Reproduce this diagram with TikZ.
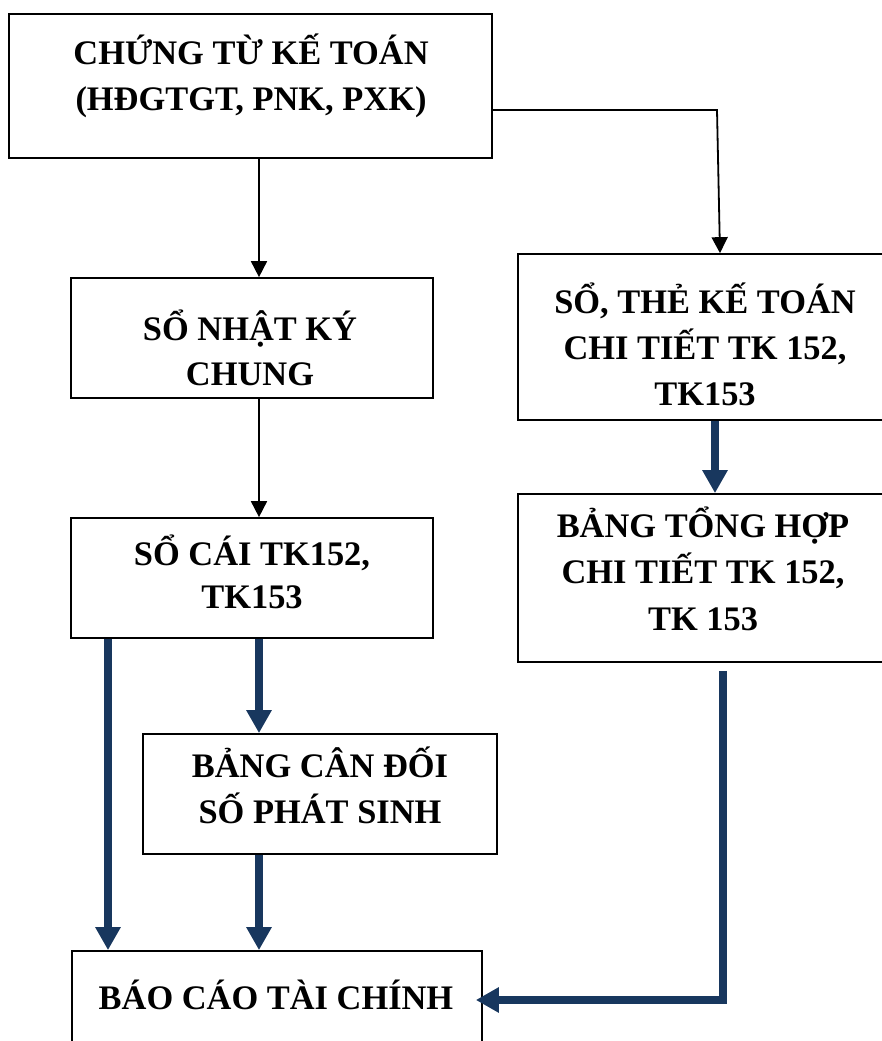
\documentclass[tikz,border=0pt]{standalone}
\usepackage{fontspec}
\setmainfont{Liberation Serif}
\usetikzlibrary{arrows.meta}
\definecolor{flowblue}{RGB}{24,55,94}
\begin{document}
\begin{tikzpicture}[x=1pt,y=-1pt,
  box/.style={draw=black,line width=1.7pt,rectangle,inner sep=0pt},
  lbl/.style={anchor=base,inner sep=0pt,font=\fontsize{34.4}{46}\selectfont\bfseries},
  thinarrow/.style={draw=black,line width=1.8pt,-{Triangle[width=16pt,length=16pt]}},
  thickarrow/.style={draw=flowblue,line width=8pt,-{Triangle[width=24pt,length=23pt]}}]
\useasboundingbox (0,0) rectangle (882,1041);
\clip (0,0) rectangle (882,1041);

% boxes
\node[box,minimum width=483pt,minimum height=144pt] (n1) at (250.5,86) {};
\node[box,minimum width=362pt,minimum height=120pt] (n2) at (252,338) {};
\node[box,minimum width=362pt,minimum height=120pt] (n3) at (252,578) {};
\node[box,minimum width=354pt,minimum height=120pt] (n4) at (320,794) {};
\node[box,minimum width=410pt,minimum height=130pt] (n5) at (277,1016) {};
\node[box,minimum width=374pt,minimum height=166pt] (n6) at (705,337) {};
\node[box,minimum width=374pt,minimum height=168pt] (n7) at (705,578) {};

% labels
\node[lbl] (t1a) at (251,65) {CHỨNG TỪ KẾ TOÁN};
\node[lbl] (t1b) at (251,110) {(HĐGTGT, PNK, PXK)};
\node[lbl] (t2a) at (250,340) {SỔ NHẬT KÝ};
\node[lbl] (t2b) at (250,385) {CHUNG};
\node[lbl] (t3a) at (252,565) {SỔ CÁI TK152,};
\node[lbl] (t3b) at (252,608) {TK153};
\node[lbl] (t4a) at (320,777) {BẢNG CÂN ĐỐI};
\node[lbl] (t4b) at (320,823) {SỐ PHÁT SINH};
\node[lbl] (t5a) at (276,1009) {BÁO CÁO TÀI CHÍNH};
\node[lbl] (t6a) at (705,313) {SỔ, THẺ KẾ TOÁN};
\node[lbl] (t6b) at (705,359) {CHI TIẾT TK 152,};
\node[lbl] (t6c) at (705,405) {TK153};
\node[lbl] (t7a) at (703,537) {BẢNG TỔNG HỢP};
\node[lbl] (t7b) at (703,583) {CHI TIẾT TK 152,};
\node[lbl] (t7c) at (703,630) {TK 153};

% guide coordinates for the connector columns
\coordinate (cL) at (108,0);
\coordinate (cM) at (259,0);
\coordinate (cR) at (715,0);
\coordinate (cR2) at (723,0);
\coordinate (rowTop) at (0,110);
\coordinate (bendTop) at (717,110);
\coordinate (topTip) at (720,0);
\coordinate (rowBot) at (0,1000);
\coordinate (bendBot) at (723,1000);

% thin connectors
\draw[thinarrow] (n1.south -| cM) -- (n2.north -| cM);
\draw[thinarrow] (n2.south -| cM) -- (n3.north -| cM);
\draw[thinarrow] (n1.east |- rowTop) -- (bendTop) -- (n6.north -| topTip);

% thick connectors
\draw[thickarrow] (n6.south -| cR) -- (n7.north -| cR);
\draw[thickarrow] (n3.south -| cM) -- (n4.north -| cM);
\draw[thickarrow] (n3.south -| cL) -- (n5.north -| cL);
\draw[thickarrow] (n4.south -| cM) -- (n5.north -| cM);
\draw[thickarrow,shorten <=8pt,shorten >=-7pt] (n7.south -| cR2) -- (bendBot) -- (n5.east |- rowBot);
\end{tikzpicture}
\end{document}
